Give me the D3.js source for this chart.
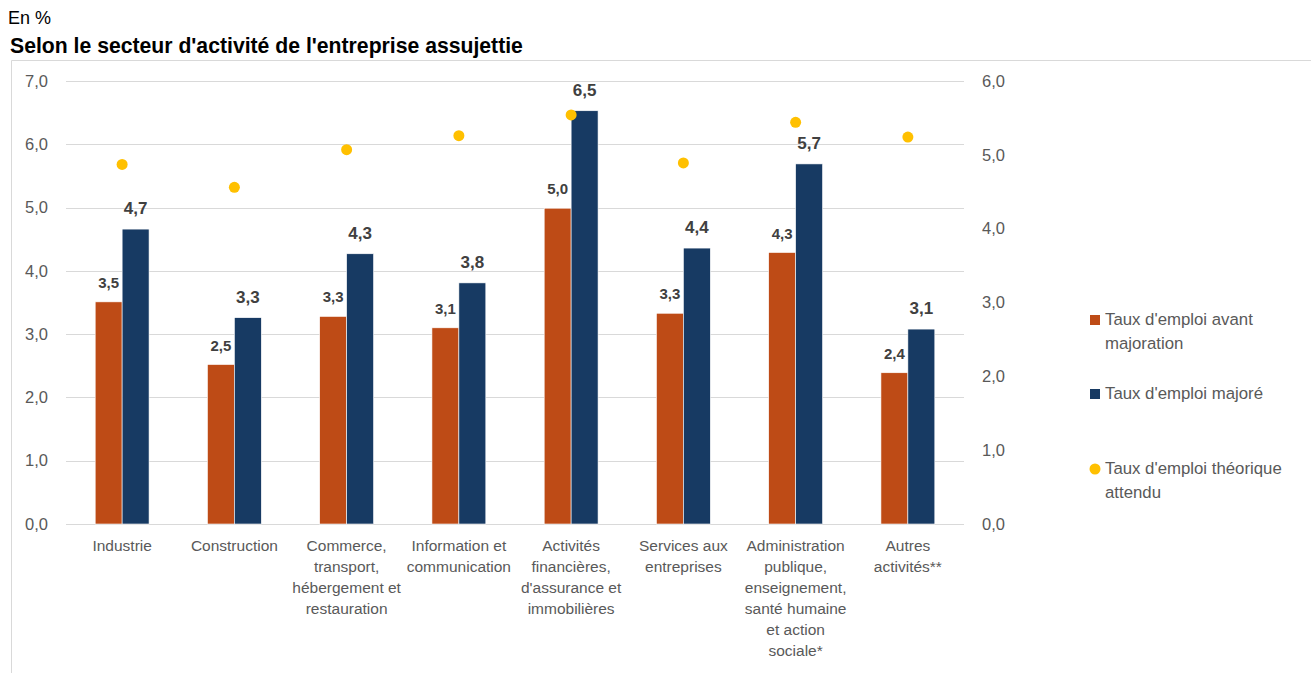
<!DOCTYPE html>
<html><head><meta charset="utf-8">
<script src="https://cdn.jsdelivr.net/npm/d3@7"></script>
<style>
html,body{margin:0;padding:0;background:#fff;}
svg{display:block;font-family:"Liberation Sans",Arial,sans-serif;}
</style></head>
<body><svg id="chart" width="1311" height="673"></svg>
<script>
const categories = [
  ["Industrie"],
  ["Construction"],
  ["Commerce,","transport,","hébergement et","restauration"],
  ["Information et","communication"],
  ["Activités","financières,","d'assurance et","immobilières"],
  ["Services aux","entreprises"],
  ["Administration","publique,","enseignement,","santé humaine","et action","sociale*"],
  ["Autres","activités**"]
];
const tauxAvant = [3.51, 2.52, 3.28, 3.10, 4.99, 3.33, 4.29, 2.39];
const tauxMajore = [4.66, 3.26, 4.27, 3.81, 6.53, 4.36, 5.69, 3.08];
const tauxTheorique = [4.87, 4.56, 5.07, 5.26, 5.54, 4.89, 5.44, 5.24];
const leftTicks = [0,1,2,3,4,5,6,7];
const rightTicks = [0,1,2,3,4,5,6];
const seriesNames = ["Taux d'emploi avant majoration","Taux d'emploi majoré","Taux d'emploi théorique attendu"];

const C_AV = "#BE4B16", C_MA = "#173A63", C_TH = "#FFC000";
const svg = d3.select("#chart");
const fmt = v => d3.format(".1f")(v).replace(".", ",");

// frame
svg.append("path").attr("d","M11.5,673 L11.5,60.5 L1311,60.5").attr("fill","none").attr("stroke","#d9d9d9");

// titles
svg.append("text").attr("x",8).attr("y",24).attr("font-size",18).attr("fill","#000").text("En %");
svg.append("text").attr("x",10).attr("y",53).attr("font-size",21.2).attr("font-weight","bold").attr("fill","#000")
  .text("Selon le secteur d'activité de l'entreprise assujettie");

const L = 66, R = 964, B = 524, T = 81;
const ids = categories.map((c,i)=>i);
const x = d3.scaleBand().domain(ids).range([L,R]).paddingInner(0.52).paddingOuter(0.26);
const x1 = d3.scaleBand().domain(["av","ma"]).range([0,x.bandwidth()]);
const yL = d3.scaleLinear().domain([0,7]).range([B,T]);
const yR = d3.scaleLinear().domain([0,6]).range([B,T]);

// gridlines
svg.append("g").selectAll("line").data(leftTicks).join("line")
  .attr("x1",L).attr("x2",R).attr("y1",d=>Math.round(yL(d))+0.5).attr("y2",d=>Math.round(yL(d))+0.5)
  .attr("stroke","#d9d9d9").attr("stroke-width",1);

// left axis
const axL = svg.append("g").attr("transform",`translate(${L},0)`)
  .call(d3.axisLeft(yL).tickValues(leftTicks).tickFormat(fmt).tickSize(0).tickPadding(18));
axL.select(".domain").remove();
axL.selectAll("text").attr("font-size",16.5).attr("fill","#595959").attr("font-family","Liberation Sans, Arial, sans-serif");

// right axis
const axR = svg.append("g").attr("transform",`translate(${R},0)`)
  .call(d3.axisRight(yR).tickValues(rightTicks).tickFormat(fmt).tickSize(0).tickPadding(18));
axR.select(".domain").remove();
axR.selectAll("text").attr("font-size",16.5).attr("fill","#595959").attr("font-family","Liberation Sans, Arial, sans-serif");

// bars
const g = svg.append("g");
g.selectAll("rect.av").data(tauxAvant).join("rect").attr("class","av")
  .attr("x",(d,i)=>x(i)+x1("av")).attr("width",x1.bandwidth())
  .attr("y",d=>yL(d)).attr("height",d=>B-yL(d)).attr("fill",C_AV)
  .attr("stroke","#fff").attr("stroke-width",0.6);
g.selectAll("rect.ma").data(tauxMajore).join("rect").attr("class","ma")
  .attr("x",(d,i)=>x(i)+x1("ma")).attr("width",x1.bandwidth())
  .attr("y",d=>yL(d)).attr("height",d=>B-yL(d)).attr("fill",C_MA)
  .attr("stroke","#fff").attr("stroke-width",0.6);

// labels
g.selectAll("text.lav").data(tauxAvant).join("text").attr("class","lav")
  .attr("x",(d,i)=>x(i)+x1("av")+x1.bandwidth()/2).attr("y",d=>yL(d)-14)
  .attr("text-anchor","middle").attr("font-size",15).attr("font-weight","bold").attr("fill","#404040").text(fmt);
g.selectAll("text.lma").data(tauxMajore).join("text").attr("class","lma")
  .attr("x",(d,i)=>x(i)+x1("ma")+x1.bandwidth()/2).attr("y",d=>yL(d)-15)
  .attr("text-anchor","middle").attr("font-size",17).attr("font-weight","bold").attr("fill","#404040").text(fmt);

// dots
g.selectAll("circle.th").data(tauxTheorique).join("circle").attr("class","th")
  .attr("cx",(d,i)=>x(i)+x.bandwidth()/2).attr("cy",d=>yR(d)).attr("r",5.5).attr("fill",C_TH);

// category labels
const cl = svg.append("g").selectAll("text").data(categories).join("text")
  .attr("text-anchor","middle").attr("font-size",15.5).attr("fill","#595959")
  .attr("transform",(d,i)=>`translate(${x(i)+x.bandwidth()/2},550.5)`);
cl.selectAll("tspan").data(d=>d).join("tspan").attr("x",0).attr("y",(d,j)=>j*21).text(d=>d);

// legend
const lg = svg.append("g").attr("font-size",16.8).attr("fill","#595959");
const legendItems = [
  {name:["Taux d'emploi avant","majoration"], color:C_AV, type:"rect", cy:320},
  {name:["Taux d'emploi majoré"], color:C_MA, type:"rect", cy:394},
  {name:["Taux d'emploi théorique","attendu"], color:C_TH, type:"circle", cy:469}
];
legendItems.forEach(it=>{
  if(it.type==="rect") lg.append("rect").attr("x",1090).attr("y",it.cy-5).attr("width",10).attr("height",10).attr("fill",it.color);
  else lg.append("circle").attr("cx",1095).attr("cy",it.cy).attr("r",5.5).attr("fill",it.color);
  const t = lg.append("text").attr("x",1105).attr("y",it.cy+5).attr("fill","#595959");
  t.selectAll("tspan").data(it.name).join("tspan").attr("x",1105).attr("dy",(d,j)=>j?24:0).text(d=>d);
});
</script></body></html>
